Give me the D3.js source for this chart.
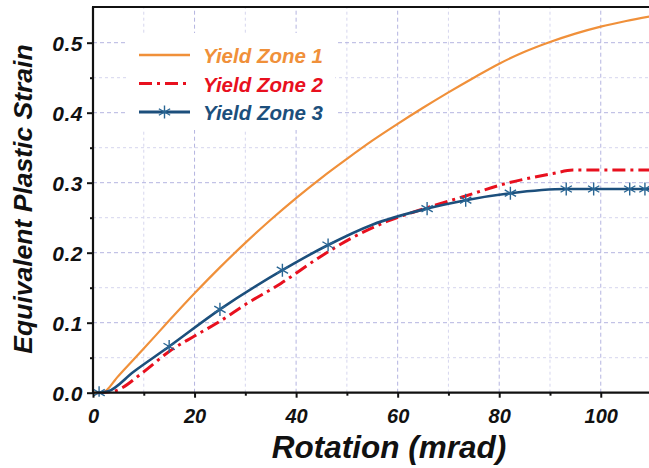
<!DOCTYPE html>
<html><head><meta charset="utf-8">
<script src="https://cdn.jsdelivr.net/npm/d3@7"></script>
<style>
html,body{margin:0;padding:0;background:#fff;}
svg{display:block;}
text{font-family:"Liberation Sans",Arial,sans-serif;font-weight:bold;font-style:italic;}
</style></head>
<body>
<svg id="chart" width="649" height="468"></svg>
<script>
// ---- data ----
const seriesNames = ["Yield Zone 1", "Yield Zone 2", "Yield Zone 3"];
const zone1 = [[0,0],[1.8,0],[5,0.024],[10,0.063],[15,0.103],[20,0.142],[25,0.179],[30,0.214],[35,0.247],[40,0.278],[45,0.307],[50,0.334],[55,0.36],[60,0.384],[65,0.407],[70,0.429],[75,0.45],[80,0.47],[85,0.487],[90,0.501],[95,0.513],[100,0.523],[105,0.531],[110,0.538]];
const zone2 = [[0.8,0],[4,0.002],[10,0.03],[15,0.059],[20,0.081],[25,0.102],[30,0.126],[37,0.156],[44.7,0.194],[51.2,0.222],[58,0.245],[64.4,0.261],[72.9,0.28],[81.4,0.299],[90.6,0.313],[94.5,0.318],[110,0.318]];
const zone3Line = [[1.2,0],[3,0.002],[8,0.03],[15,0.066],[25,0.119],[37.3,0.175],[46.3,0.211],[55,0.24],[65.8,0.263],[73.4,0.275],[82.2,0.285],[93.2,0.291],[110,0.291]];
const zone3Markers = [[1.2,0],[15,0.066],[25,0.119],[37.3,0.175],[46.3,0.211],[65.8,0.263],[73.4,0.275],[82.2,0.285],[93.2,0.291],[98.6,0.291],[105.7,0.291],[108.7,0.291]];
const xMajor = [0,20,40,60,80,100];
const xMinor = [10,30,50,70,90,110];
const yMajor = [0,0.1,0.2,0.3,0.4,0.5];
const yMinor = [0.05,0.15,0.25,0.35,0.45];
const xTitle = "Rotation (mrad)";
const yTitle = "Equivalent Plastic Strain";

const colors = ["#f0903a", "#e8101e", "#1c4f7c"];
const svg = d3.select("#chart");
const x = d3.scaleLinear().domain([0,109.5]).range([93,649]);
const y = d3.scaleLinear().domain([0,0.55]).range([392.7,7.7]);
const X0 = x(0), X1 = 649, Y0 = y(0), Y1 = 7;

// grid
const grid = svg.append("g");
grid.selectAll(".gxm").data(xMinor).join("line")
  .attr("x1",d=>x(d)).attr("x2",d=>x(d)).attr("y1",Y0).attr("y2",Y1)
  .attr("stroke","#d6d6ee").attr("stroke-width",1).attr("stroke-dasharray","3,3");
grid.selectAll(".gym").data(yMinor).join("line")
  .attr("x1",X0).attr("x2",X1).attr("y1",d=>y(d)).attr("y2",d=>y(d))
  .attr("stroke","#d6d6ee").attr("stroke-width",1).attr("stroke-dasharray","3,3");
grid.selectAll(".gx").data(xMajor.slice(1)).join("line")
  .attr("x1",d=>x(d)).attr("x2",d=>x(d)).attr("y1",Y0).attr("y2",Y1)
  .attr("stroke","#b4b4e0").attr("stroke-width",1).attr("stroke-dasharray","4,3");
grid.selectAll(".gy").data(yMajor.slice(1)).join("line")
  .attr("x1",X0).attr("x2",X1).attr("y1",d=>y(d)).attr("y2",d=>y(d))
  .attr("stroke","#b4b4e0").attr("stroke-width",1).attr("stroke-dasharray","4,3");

// legend background (covers grid)
svg.append("rect").attr("x",128).attr("y",33).attr("width",207).attr("height",97).attr("fill","#fff");

// clip
svg.append("clipPath").attr("id","clip").append("rect")
  .attr("x",X0).attr("y",Y1).attr("width",X1-X0).attr("height",Y0-Y1+4);
const plot = svg.append("g").attr("clip-path","url(#clip)");
const line = d3.line().x(d=>x(d[0])).y(d=>y(d[1])).curve(d3.curveMonotoneX);

plot.append("path").attr("d",line(zone1)).attr("fill","none")
  .attr("stroke",colors[0]).attr("stroke-width",2.2);
plot.append("path").attr("d",line(zone2)).attr("fill","none")
  .attr("stroke",colors[1]).attr("stroke-width",3).attr("stroke-dasharray","13,5,3,5");
plot.append("path").attr("d",line(zone3Line)).attr("fill","none")
  .attr("stroke",colors[2]).attr("stroke-width",2.6);
const star = d3.symbol().type(d3.symbolAsterisk).size(120);
plot.selectAll(".mk").data(zone3Markers).join("path")
  .attr("transform",d=>`translate(${x(d[0])},${y(d[1])})`)
  .attr("d",star).attr("fill","none").attr("stroke","#2a6694").attr("stroke-width",1.4);

// axes
const xAxis = svg.append("g").attr("transform",`translate(0,${Y0})`)
  .call(d3.axisBottom(x).tickValues(xMajor).tickSize(5).tickFormat(d3.format("d")));
const xAxisMin = svg.append("g").attr("transform",`translate(0,${Y0})`)
  .call(d3.axisBottom(x).tickValues(xMinor).tickSize(3).tickFormat(""));
const yAxis = svg.append("g").attr("transform",`translate(${X0},0)`)
  .call(d3.axisLeft(y).tickValues(yMajor).tickSize(6).tickFormat(d3.format(".1f")));
const yAxisMin = svg.append("g").attr("transform",`translate(${X0},0)`)
  .call(d3.axisLeft(y).tickValues(yMinor).tickSize(3).tickFormat(""));
[xAxis,xAxisMin,yAxis,yAxisMin].forEach(g=>{
  g.select(".domain").remove();
  g.selectAll(".tick line").attr("stroke","#111").attr("stroke-width",2);
});
xAxis.selectAll(".tick text").attr("font-size",20).attr("fill","#111").attr("dy",null).attr("y",30.5);
yAxis.selectAll(".tick text").attr("font-size",21).attr("fill","#111").attr("x",-10).attr("dy","0.36em")
  .attr("letter-spacing","0.5px");
// axis lines / frame
svg.append("line").attr("x1",X0).attr("x2",X1).attr("y1",Y0).attr("y2",Y0).attr("stroke","#111").attr("stroke-width",2.2);
svg.append("line").attr("x1",X0).attr("x2",X0).attr("y1",Y0+1).attr("y2",Y1).attr("stroke","#111").attr("stroke-width",2.2);
svg.append("line").attr("x1",X0-1).attr("x2",X1).attr("y1",Y1).attr("y2",Y1).attr("stroke","#111").attr("stroke-width",2.2);

// titles
svg.append("text").attr("x",389).attr("y",458).attr("text-anchor","middle")
  .attr("font-size",31.5).attr("fill","#111").text(xTitle);
svg.append("text").attr("transform","translate(32,199) rotate(-90)").attr("text-anchor","middle")
  .attr("font-size",26.5).attr("fill","#111").text(yTitle);

// legend
const leg = svg.append("g");
seriesNames.forEach((name,i)=>{
  const ly = 55 + i*28.5;
  const l = leg.append("line").attr("x1",139).attr("x2",190).attr("y1",ly).attr("y2",ly)
    .attr("stroke",colors[i]).attr("stroke-width",i===0?2.4:3);
  if(i===1) l.attr("stroke-dasharray","13,5,3,5");
  if(i===2) leg.append("path").attr("transform",`translate(164.5,${ly})`).attr("d",star)
    .attr("fill","none").attr("stroke","#2a6694").attr("stroke-width",1.4);
  leg.append("text").attr("x",203).attr("y",ly+8).attr("font-size",20.5)
    .attr("fill",colors[i]).text(name);
});
</script>
</body></html>
